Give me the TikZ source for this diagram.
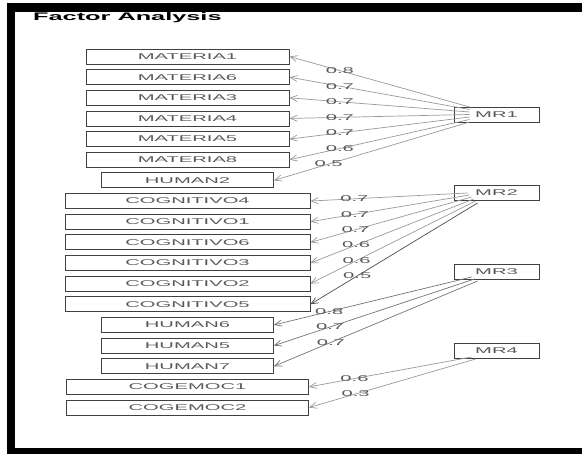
\documentclass[tikz,border=0pt]{standalone}
\usepackage{fontspec}
\setmainfont{Liberation Sans}[FakeStretch=2.4]
\newfontfamily\titlefont{Liberation Sans}[FakeStretch=2.3]
\usetikzlibrary{arrows.meta,calc}
\tikzset{
  itembox/.style={draw=black!75, line width=0.8pt, minimum height=15pt, inner sep=0pt,
    font=\fontsize{8.4}{10}\selectfont, text=black!65},
  facbox/.style={itembox, minimum width=85pt},
  load/.style={draw=black!40, line width=0.7pt, -{Straight Barb[length=7pt,width=6pt]}},
  loaddark/.style={load, draw=black!70},
  lab/.style={font=\fontsize{8.4}{10}\selectfont, text=black!65, inner sep=0pt}
}
\begin{document}
\begin{tikzpicture}[x=1pt,y=-1pt]
\useasboundingbox (0,0) rectangle (582,454);
% frame
\fill[black] (7,3) rectangle (582,12);
\fill[black] (7,3) rectangle (15,454);
\fill[black] (7,448) rectangle (582,454);
\node[anchor=base west, inner sep=0pt, font=\titlefont\fontsize{11}{13}\selectfont\bfseries] (title) at (33,21) {Factor Analysis};
% items
\foreach \n/\t/\w [count=\i from 0] in {
  m1/MATERIA1/203, m6/MATERIA6/203, m3/MATERIA3/203, m4/MATERIA4/203,
  m5/MATERIA5/203, m8/MATERIA8/203, h2/HUMAN2/172,
  c4/COGNITIVO4/245, c1/COGNITIVO1/245, c6/COGNITIVO6/245, c3/COGNITIVO3/245,
  c2/COGNITIVO2/245, c5/COGNITIVO5/245,
  h6/HUMAN6/172, h5/HUMAN5/172, h7/HUMAN7/172,
  g1/COGEMOC1/242, g2/COGEMOC2/242}
  \node[itembox, minimum width=\w pt] (\n) at (187.5,{56.5+\i*20.65}) {\t};
% factors
\node[facbox] (mr1) at (496.5,114.5) {MR1};
\node[facbox] (mr2) at (496.5,192.5) {MR2};
\node[facbox] (mr3) at (496.5,271.5) {MR3};
\node[facbox] (mr4) at (496.5,350.5) {MR4};
% loadings
\foreach \t/\dx/\dy/\v in {m1/16/-7.5/0.8, m6/16/-5/0.7, m3/16/-2.5/0.7, m4/16/0/0.7,
  m5/16/2.5/0.7, m8/16/5/0.6, h2/16/7.5/0.5}
  \draw[load] ($(mr1.west)+(\dx,\dy)$) -- node[lab,pos=0.72]{\v} (\t.east);
\foreach \t/\dx/\dy/\v in {c4/14/0.5/0.7, c1/16/2.5/0.7, c6/18/4.5/0.7, c3/20/6.5/0.6,
  c2/22/8.5/0.6}
  \draw[load] ($(mr2.west)+(\dx,\dy)$) -- node[lab,pos=0.72]{\v} (\t.east);
\draw[loaddark] ($(mr2.west)+(24,10.5)$) -- node[lab,pos=0.72]{0.5} (c5.east);
\foreach \t/\dx/\dy/\v in {h6/18/5.5/0.8, h5/21/7.5/0.7, h7/24/9.5/0.7}
  \draw[load, draw=black!55] ($(mr3.west)+(\dx,\dy)$) -- node[lab,pos=0.72]{\v} (\t.east);
\foreach \t/\dx/\dy/\v in {g1/18/6.5/0.6, g2/22/8.5/0.3}
  \draw[load] ($(mr4.west)+(\dx,\dy)$) -- node[lab,pos=0.72]{\v} (\t.east);
\end{tikzpicture}
\end{document}
